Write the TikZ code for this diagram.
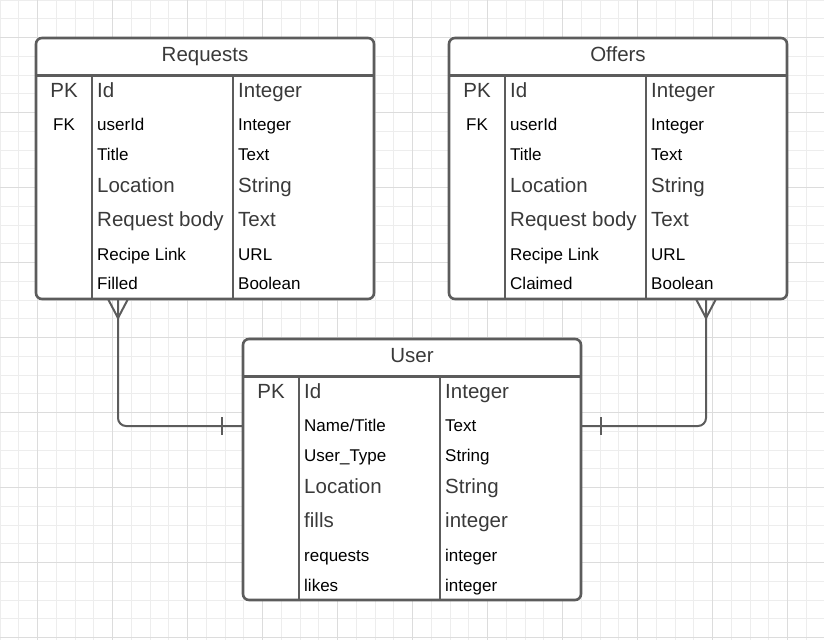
\documentclass[tikz,border=0pt]{standalone}
\usepackage{fontspec}
\setmainfont{Liberation Sans}
\usetikzlibrary{calc}
\definecolor{edge}{HTML}{5C5C5C}
\definecolor{bigtext}{HTML}{3A3A3A}
\definecolor{gridminor}{HTML}{EDEDED}
\definecolor{gridmajor}{HTML}{DCDCDC}
\newcommand\ertable[4]{%
  \node[tbl] (#1) at (#2,#3) {};
  \draw[sep] ($(#1.north west)+(0,37.5)$) -- ($(#1.north east)+(0,37.5)$);
  \draw[sep] ($(#1.north west)+(56,37.5)$) -- ($(#1.south west)+(56,0)$);
  \draw[sep] ($(#1.north west)+(197,37.5)$) -- ($(#1.south west)+(197,0)$);
  \node[big, anchor=base] (#1-title) at ($(#1.north)+(0,23.7)$) {#4};
}
\newcommand\errow[6]{%
  \node[#3] (#1-#2-n) at ($(#1.north west)+(61,#4)$) {#5};
  \node[#3] (#1-#2-t) at ($(#1.north west)+(202,#4)$) {#6};
}
\begin{document}
\begin{tikzpicture}[x=1pt,y=-1pt,
  tbl/.style={draw=edge, fill=white, line width=2.6pt, rounded corners=6pt,
    minimum width=338pt, minimum height=261pt, anchor=north west,
    inner sep=0pt, outer sep=0pt},
  sep/.style={draw=edge, line width=2.6pt},
  big/.style={font=\fontsize{20.5}{24}\selectfont, text=bigtext, inner sep=0pt, anchor=base west},
  small/.style={font=\fontsize{17}{20}\selectfont, text=black, inner sep=0pt, anchor=base west},
  conn/.style={draw=edge, line width=2pt, rounded corners=8pt},
  foot/.style={draw=edge, line width=2pt, line join=miter},
  minorline/.style={draw=gridminor, line width=1pt},
  majorline/.style={draw=gridmajor, line width=1pt},
]
\fill[white] (0,0) rectangle (824,640);
\useasboundingbox (0,0) rectangle (824,640);
% grid
\foreach \k in {0,...,44} {\draw[minorline] (\k*18.75,0) -- (\k*18.75,640);}
\foreach \k in {0,...,34} {\draw[minorline] (0,\k*18.75) -- (824,\k*18.75);}
\foreach \k in {2,6,...,42} {\draw[majorline] (\k*18.75,0) -- (\k*18.75,640);}
\foreach \k in {2,6,...,34} {\draw[majorline] (0,\k*18.75) -- (824,\k*18.75);}

% tables
\ertable{req}{36}{38}{Requests}
\node[big, anchor=base] (req-pk) at ($(req.north west)+(28,59.7)$) {PK};
\node[small, anchor=base] (req-fk) at ($(req.north west)+(28,92)$) {FK};
\errow{req}{id}{big}{59.7}{Id}{Integer}
\errow{req}{uid}{small}{92}{userId}{Integer}
\errow{req}{title}{small}{122}{Title}{Text}
\errow{req}{loc}{big}{154}{Location}{String}
\errow{req}{body}{big}{188.7}{Request body}{Text}
\errow{req}{link}{small}{222}{Recipe Link}{URL}
\errow{req}{fill}{small}{251.5}{Filled}{Boolean}

\ertable{off}{449}{38}{Offers}
\node[big, anchor=base] (off-pk) at ($(off.north west)+(28,59.7)$) {PK};
\node[small, anchor=base] (off-fk) at ($(off.north west)+(28,92)$) {FK};
\errow{off}{id}{big}{59.7}{Id}{Integer}
\errow{off}{uid}{small}{92}{userId}{Integer}
\errow{off}{title}{small}{122}{Title}{Text}
\errow{off}{loc}{big}{154}{Location}{String}
\errow{off}{body}{big}{188.7}{Request body}{Text}
\errow{off}{link}{small}{222}{Recipe Link}{URL}
\errow{off}{fill}{small}{251.5}{Claimed}{Boolean}

\ertable{user}{243}{339}{User}
\node[big, anchor=base] (user-pk) at ($(user.north west)+(28,59.7)$) {PK};
\errow{user}{id}{big}{59.7}{Id}{Integer}
\errow{user}{name}{small}{92}{Name/Title}{Text}
\errow{user}{type}{small}{122}{User\_Type}{String}
\errow{user}{loc}{big}{154}{Location}{String}
\errow{user}{fills}{big}{188.7}{fills}{integer}
\errow{user}{req}{small}{222}{requests}{integer}
\errow{user}{likes}{small}{252}{likes}{integer}

% connectors
\draw[conn] ($(req.south west)+(82,0)$) |- ($(user.north west)+(0,87)$);
\draw[foot] ($(req.south west)+(72,0)$) -- ($(req.south west)+(82,19)$) -- ($(req.south west)+(92,0)$);
\draw[foot] ($(user.north west)+(-21,78)$) -- ($(user.north west)+(-21,96)$);

\draw[conn] ($(off.south west)+(257,0)$) |- ($(user.north east)+(0,87)$);
\draw[foot] ($(off.south west)+(247,0)$) -- ($(off.south west)+(257,19)$) -- ($(off.south west)+(267,0)$);
\draw[foot] ($(user.north east)+(20,78)$) -- ($(user.north east)+(20,96)$);
\end{tikzpicture}
\end{document}
